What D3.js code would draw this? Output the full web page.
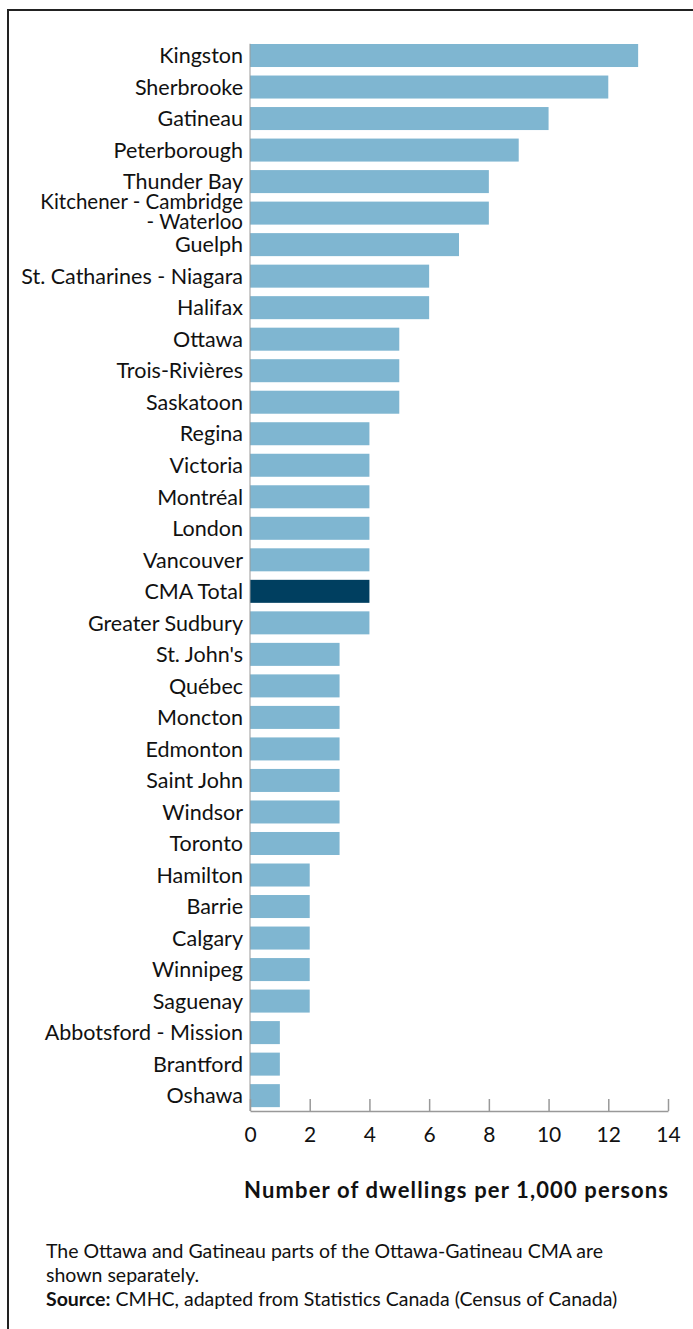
<!DOCTYPE html>
<html>
<head>
<meta charset="utf-8">
<script src="https://cdn.jsdelivr.net/npm/d3@7"></script>
<style>
  html, body { margin: 0; padding: 0; background: #fff; }
  svg { display: block; }
</style>
</head>
<body>
<div id="chart"></div>
<script>
// city names, top to bottom ('|' splits a label onto two lines)
var cities = ['Kingston', 'Sherbrooke', 'Gatineau', 'Peterborough', 'Thunder Bay',
  'Kitchener - Cambridge|- Waterloo', 'Guelph', 'St. Catharines - Niagara', 'Halifax',
  'Ottawa', 'Trois-Rivières', 'Saskatoon', 'Regina', 'Victoria', 'Montréal', 'London',
  'Vancouver', 'CMA Total', 'Greater Sudbury', "St. John's", 'Québec', 'Moncton',
  'Edmonton', 'Saint John', 'Windsor', 'Toronto', 'Hamilton', 'Barrie', 'Calgary',
  'Winnipeg', 'Saguenay', 'Abbotsford - Mission', 'Brantford', 'Oshawa'];

// dwellings per 1,000 persons
var values = [13, 12, 10, 9, 8, 8, 7, 6, 6, 5, 5, 5, 4, 4, 4, 4, 4, 4, 4,
  3, 3, 3, 3, 3, 3, 3, 2, 2, 2, 2, 2, 1, 1, 1];

var xTicks = [0, 2, 4, 6, 8, 10, 12, 14];
var highlight = 'CMA Total';

var width = 693, height = 1329;
var font = 'Lato, "Open Sans", sans-serif';

var svg = d3.select('#chart').append('svg')
  .attr('width', width)
  .attr('height', height);

// frame
svg.append('path')
  .attr('d', 'M8,' + height + 'V10H' + width)
  .attr('fill', 'none')
  .attr('stroke', '#222')
  .attr('stroke-width', 2);

var x = d3.scaleLinear().domain([0, 14]).range([250, 668]);
var y = d3.scaleBand()
  .domain(cities)
  .range([39.75, 1111.4])
  .paddingInner(0.27)
  .paddingOuter(0.135);

var data = cities.map(function(c, i) { return { city: c, value: values[i] }; });

svg.selectAll('rect.bar')
  .data(data)
  .enter()
  .append('rect')
  .attr('class', 'bar')
  .attr('x', x(0))
  .attr('y', function(d) { return y(d.city); })
  .attr('width', function(d) { return x(d.value) - x(0); })
  .attr('height', y.bandwidth())
  .attr('fill', function(d) { return d.city == highlight ? '#003f60' : '#7fb6d1'; });

// category labels
var labels = svg.selectAll('text.cat')
  .data(data)
  .enter()
  .append('text')
  .attr('class', 'cat')
  .attr('text-anchor', 'end')
  .attr('font-family', font)
  .attr('font-size', function(d) { return d.city.indexOf('|') > -1 ? 20.5 : 21.5; })
  .attr('fill', '#111')
  .attr('transform', function(d) {
    return 'translate(243,' + (y(d.city) + y.bandwidth() / 2) + ')';
  });

labels.each(function(d) {
  var parts = d.city.split('|');
  var t = d3.select(this);
  parts.forEach(function(p, j) {
    t.append('tspan')
      .attr('x', 0)
      .attr('y', parts.length > 1 ? (j - 0.5) * 20 - 1 : 0)
      .attr('dy', '0.36em')
      .text(p);
  });
});

// left axis line
svg.append('line')
  .attr('x1', x(0)).attr('x2', x(0))
  .attr('y1', y.range()[0] + 4).attr('y2', 1111)
  .attr('stroke', '#999').attr('stroke-width', 1);

// x axis
var xAxis = svg.append('g')
  .attr('transform', 'translate(0,1111)')
  .call(d3.axisBottom(x).tickValues(xTicks).tickSize(-12).tickSizeOuter(0));

xAxis.select('.domain').attr('stroke', '#999').attr('stroke-width', 1.5);
xAxis.selectAll('.tick line').attr('stroke', '#999').attr('stroke-width', 1.5);
xAxis.selectAll('.tick text')
  .attr('font-family', font)
  .attr('font-size', 21)
  .attr('fill', '#111')
  .attr('y', 31)
  .attr('dy', 0);

svg.append('text')
  .attr('x', 668)
  .attr('y', 1198)
  .attr('text-anchor', 'end')
  .attr('font-family', font)
  .attr('font-weight', 'bold')
  .attr('font-size', 22)
  .attr('fill', '#111')
  .attr('textLength', 424)
  .attr('lengthAdjust', 'spacing')
  .text('Number of dwellings per 1,000 persons');

// notes
var notes = svg.append('g')
  .attr('font-family', font)
  .attr('font-size', 19.5)
  .attr('fill', '#111');

notes.append('text').attr('x', 46).attr('y', 1258)
  .text('The Ottawa and Gatineau parts of the Ottawa-Gatineau CMA are');
notes.append('text').attr('x', 46).attr('y', 1282)
  .text('shown separately.');
var src = notes.append('text').attr('x', 46).attr('y', 1306);
src.append('tspan').attr('font-weight', 'bold').text('Source:');
src.append('tspan').text(' CMHC, adapted from Statistics Canada (Census of Canada)');
</script>
</body>
</html>
